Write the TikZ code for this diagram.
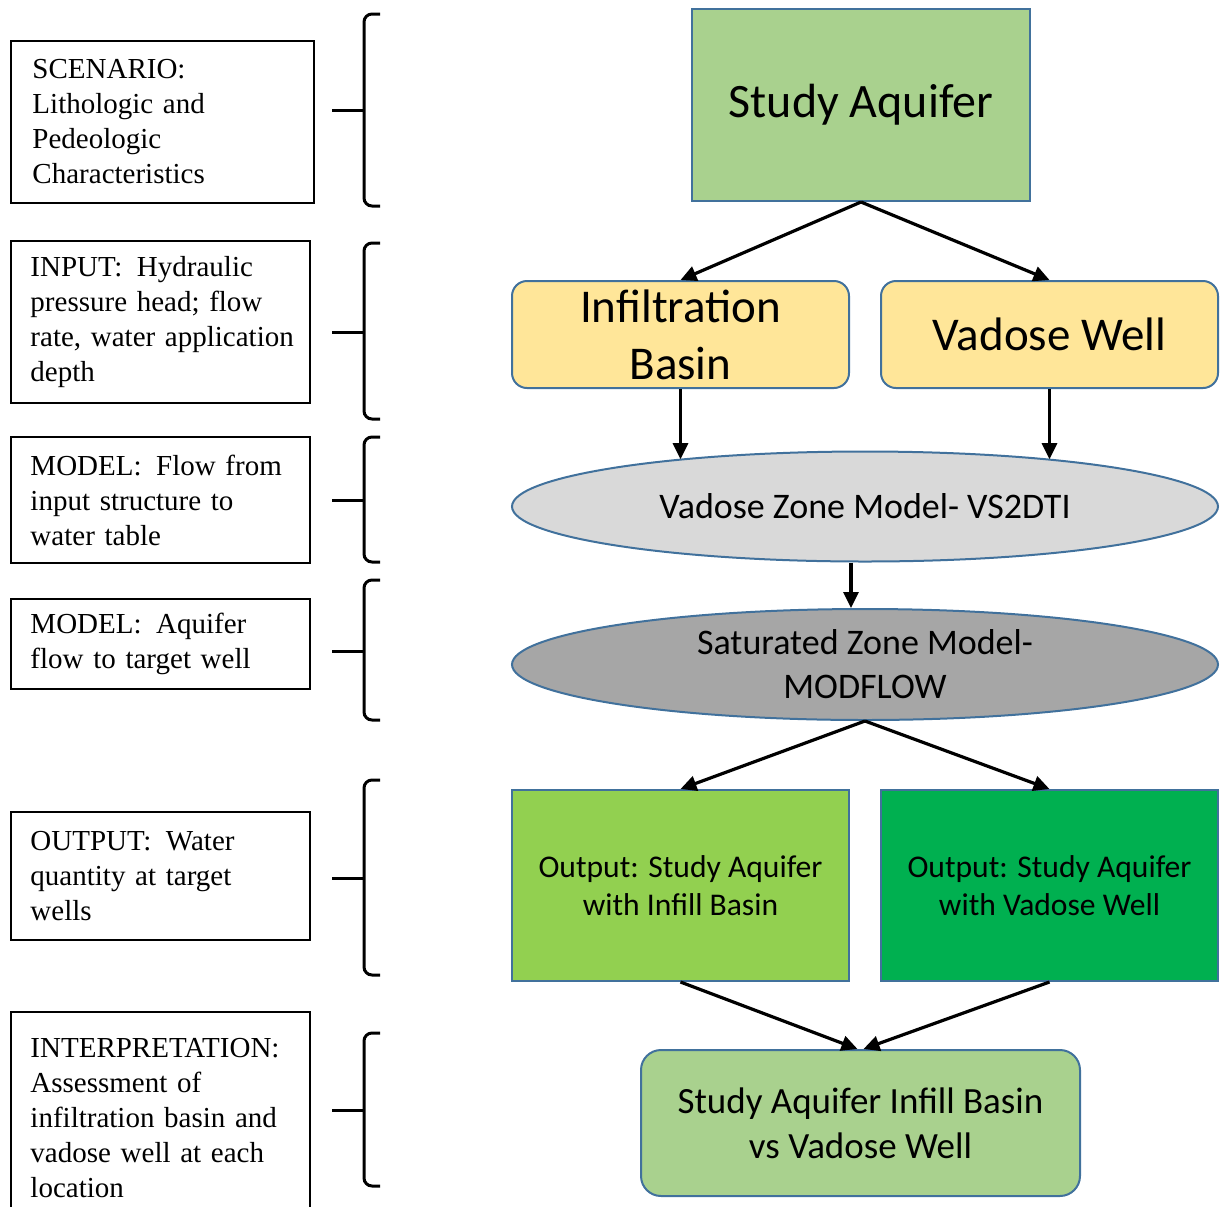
\documentclass[tikz,border=0pt]{standalone}
\usepackage{fontspec}
\setmainfont{Liberation Serif}
\newfontfamily\calfont{Carlito}
\usepackage{tikz}
\usetikzlibrary{shapes.geometric,arrows.meta}
\usepackage{xcolor}
\definecolor{edgeblue}{RGB}{65,113,156}
\definecolor{aqgreen}{RGB}{169,209,142}
\definecolor{structyel}{RGB}{255,230,153}
\definecolor{vzgray}{RGB}{217,217,217}
\definecolor{szgray}{RGB}{166,166,166}
\definecolor{ibgreen}{RGB}{146,208,80}
\definecolor{vwgreen}{RGB}{0,176,80}

\begin{document}
\begin{tikzpicture}[
    x=0.5pt, y=-0.5pt,
    >={Triangle[length=8pt,width=7.5pt]},
    notebox/.style={draw=black, line width=1pt, fill=white, inner xsep=4.75pt,
        inner ysep=0pt, text width=140pt, minimum width=149.5pt, align=left,
        font=\fontsize{14.5}{17.5}\selectfont,
        execute at begin node={\leftskip=5pt}},
    flowbox/.style={draw=edgeblue, line width=1pt, inner sep=2pt, align=center,
        minimum width=168.5pt},
    structbox/.style={flowbox, fill=structyel, rounded corners=7.5pt,
        minimum height=53.5pt, font=\calfont\fontsize{23.5}{28.5}\selectfont},
    zonebox/.style={draw=edgeblue, line width=1pt, ellipse, inner sep=0pt,
        minimum width=353pt, minimum height=55pt, align=center,
        font=\calfont\fontsize{18}{22}\selectfont},
    outbox/.style={flowbox, minimum height=95.5pt,
        font=\calfont\fontsize{15.8}{19}\selectfont},
    bracket/.style={line width=1.5pt, rounded corners=4pt},
    arr/.style={->, line width=1.6pt, black},
]
\useasboundingbox (0,0) rectangle (1222,1206);
\clip (0,0) rectangle (1222,1206);

% === LEFT: stage notes ===
\node[notebox, minimum width=151.5pt, minimum height=81pt] (scen) at (162.5,122)
    {SCENARIO:\\Lithologic and\\Pedeologic\\Characteristics};
\node[notebox, minimum height=81pt] (inpt) at (160.5,322)
    {INPUT:\, Hydraulic\\pressure head; flow\\rate, water application\\depth};
\node[notebox, minimum height=63pt] (mflow) at (160.5,500)
    {MODEL:\, Flow from\\input structure to\\water table};
\node[notebox, minimum height=45pt] (maq) at (160.5,644)
    {MODEL:\, Aquifer\\flow to target well};
\node[notebox, minimum height=64pt] (outq) at (160.5,876)
    {OUTPUT:\, Water\\quantity at target\\wells};
\node[notebox, minimum height=106pt] (interp) at (160.5,1118)
    {INTERPRETATION:\\Assessment of\\infiltration basin and\\vadose well at each\\location};

% Brackets
\foreach \t/\m/\b in {14/110/206, 243/332/419, 437/500/562, 580/651/720, 780/878/975, 1033/1110/1186} {
    \draw[bracket] (380,\t) -- (364,\t) -- (364,\b) -- (380,\b);
    \draw[line width=1.5pt] (332,\m) -- (364,\m);
}

% === RIGHT: model chain ===
\node[flowbox, fill=aqgreen, minimum width=169pt, minimum height=96pt,
    font=\calfont\fontsize{24}{28}\selectfont] (studyaq) at (861,105) {Study Aquifer};

\node[structbox] (infil) at (680.5,334.5) {Infiltration\\Basin};
\node[structbox] (vwell) at (1049.5,334.5) {Vadose Well};

\node[zonebox, fill=vzgray] (vzone) at (865,506.5) {Vadose Zone Model- VS2DTI};
\node[zonebox, fill=szgray, minimum height=55.5pt] (szone) at (865,664.5)
    {Saturated Zone Model-\\MODFLOW};

\node[outbox, fill=ibgreen] (outib) at (680.5,885.5) {Output: Study Aquifer\\with Infill Basin};
\node[outbox, fill=vwgreen] (outvw) at (1049.5,885.5) {Output: Study Aquifer\\with Vadose Well};

\node[flowbox, fill=aqgreen, rounded corners=10pt, minimum width=219.5pt,
    minimum height=73pt, font=\calfont\fontsize{18.5}{22.5}\selectfont] (compare)
    at (860.5,1123) {Study Aquifer Infill Basin\\vs Vadose Well};

% Arrows
\draw[arr] (studyaq.south) -- (infil.north);
\draw[arr] (studyaq.south) -- (vwell.north);
\draw[arr] (infil.south) -- (infil.south |- vzone.166);
\draw[arr] (vwell.south) -- (vwell.south |- vzone.14);
\draw[arr] ([xshift=-7pt]vzone.south) -- ([xshift=-7pt]szone.north);
\draw[arr] (szone.south) -- (outib.north);
\draw[arr] (szone.south) -- (outvw.north);
\draw[arr] (outib.south) -- ([xshift=-1.5pt]compare.north);
\draw[arr] (outvw.south) -- ([xshift=1.5pt]compare.north);

\end{tikzpicture}
\end{document}
